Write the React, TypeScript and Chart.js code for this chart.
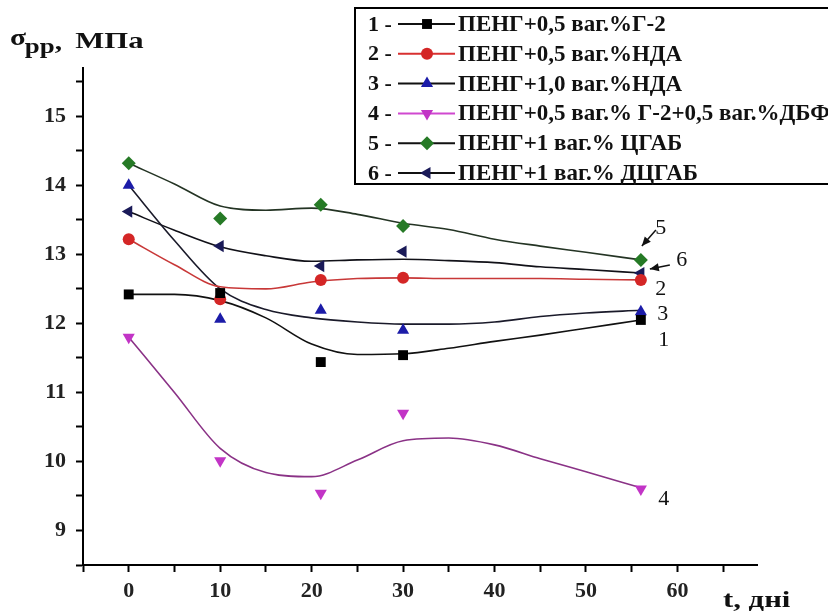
import React, { useEffect, useRef } from "react";
import { Chart, registerables } from "chart.js";

Chart.register(...registerables);

// Measured days
const DAYS = [0, 10, 21, 30, 56];
// Measured values σpp, MPa
const S1 = [12.42, 12.44, 11.44, 11.54, 12.05];
const S2 = [13.22, 12.35, 12.63, 12.66, 12.63];
const S3 = [14.0, 12.06, 12.19, 11.9, 12.17];
const S4 = [11.8, 10.01, 9.54, 10.7, 9.6];
const S5 = [14.32, 13.52, 13.72, 13.41, 12.92];
const S6 = [13.62, 13.12, 12.83, 13.04, 12.73];

// Smoothed fit curves
const FIT_X = [0, 5, 10, 15, 20, 25, 30, 35, 40, 45, 50, 56];
const F1 = [12.42, 12.42, 12.33, 12.08, 11.7, 11.55, 11.56, 11.64, 11.74, 11.83, 11.93, 12.05];
const F2 = [13.22, 12.85, 12.53, 12.5, 12.6, 12.65, 12.66, 12.65, 12.65, 12.65, 12.64, 12.63];
const F3 = [14.0, 13.2, 12.5, 12.2, 12.08, 12.02, 11.99, 11.99, 12.02, 12.1, 12.15, 12.19];
const F4 = [11.8, 11.0, 10.19, 9.84, 9.78, 10.02, 10.3, 10.34, 10.24, 10.04, 9.85, 9.62];
const F5 = [14.32, 14.02, 13.7, 13.64, 13.67, 13.58, 13.45, 13.36, 13.22, 13.12, 13.03, 12.92];
const F6 = [13.62, 13.35, 13.11, 12.98, 12.9, 12.92, 12.93, 12.91, 12.88, 12.82, 12.78, 12.73];

const LEGEND_LABELS = [
  "ПЕНГ+0,5 ваг.%Г-2",
  "ПЕНГ+0,5 ваг.%НДА",
  "ПЕНГ+1,0 ваг.%НДА",
  "ПЕНГ+0,5 ваг.% Г-2+0,5 ваг.%ДБФ",
  "ПЕНГ+1 ваг.% ЦГАБ",
  "ПЕНГ+1 ваг.% ДЦГАБ",
];
const CURVE_NUMS = ["1", "2", "3", "4", "5", "6"];

const X_TICKS_LABELLED = [0, 10, 20, 30, 40, 50, 60];

const SERIES = [S1, S2, S3, S4, S5, S6];
const FITS = [F1, F2, F3, F4, F5, F6];

const FAMILY = '"Liberation Serif", "Times New Roman", serif';

const STYLES = [
  { color: "#000000", line: "#111111", legendLine: "#111111", ps: "rect", r: 7, rot: 0 },
  { color: "#d42626", line: "#c83838", legendLine: "#d83030", ps: "circle", r: 6, rot: 0 },
  { color: "#1c1ca8", line: "#1a1a2a", legendLine: "#111111", ps: "triangle", r: 7, rot: 0 },
  { color: "#c234c6", line: "#8a3286", legendLine: "#d048d0", ps: "triangle", r: 7, rot: 180 },
  { color: "#267a26", line: "#243424", legendLine: "#111111", ps: "rectRot", r: 7, rot: 0 },
  { color: "#1a1a58", line: "#111118", legendLine: "#111111", ps: "triangle", r: 7, rot: 270 },
];

// label offsets (pixels) from last marker of each series
const LABEL_OFFS = [
  [23, 20],
  [20, 9],
  [22, 3],
  [23, 10],
  [20, -32],
  [41, -13],
];

function drawMarker(ctx: CanvasRenderingContext2D, ps: string, x: number, y: number, r: number, rot: number, color: string) {
  ctx.save();
  ctx.translate(x, y);
  ctx.rotate((rot * Math.PI) / 180);
  ctx.fillStyle = color;
  ctx.beginPath();
  if (ps === "rect") {
    const s = r * Math.SQRT1_2;
    ctx.rect(-s, -s, 2 * s, 2 * s);
  } else if (ps === "circle") {
    ctx.arc(0, 0, r, 0, Math.PI * 2);
  } else if (ps === "rectRot") {
    ctx.moveTo(0, -r);
    ctx.lineTo(r, 0);
    ctx.lineTo(0, r);
    ctx.lineTo(-r, 0);
    ctx.closePath();
  } else {
    ctx.moveTo(0, -r);
    ctx.lineTo(r * 0.866, r * 0.5);
    ctx.lineTo(-r * 0.866, r * 0.5);
    ctx.closePath();
  }
  ctx.fill();
  ctx.restore();
}

function arrow(ctx: CanvasRenderingContext2D, x1: number, y1: number, x2: number, y2: number) {
  ctx.beginPath();
  ctx.moveTo(x1, y1);
  ctx.lineTo(x2, y2);
  ctx.stroke();
  const a = Math.atan2(y2 - y1, x2 - x1);
  const L = 9;
  const W = 4;
  ctx.beginPath();
  ctx.moveTo(x2, y2);
  ctx.lineTo(x2 - L * Math.cos(a) + W * Math.sin(a), y2 - L * Math.sin(a) - W * Math.cos(a));
  ctx.lineTo(x2 - L * Math.cos(a) - W * Math.sin(a), y2 - L * Math.sin(a) + W * Math.cos(a));
  ctx.closePath();
  ctx.fill();
}

const overlayPlugin = {
  id: "overlay",
  afterDraw(chart: any) {
    const ctx: CanvasRenderingContext2D = chart.ctx;
    const xs = chart.scales.x;
    const ys = chart.scales.y;
    ctx.save();
    ctx.fillStyle = "#111";
    ctx.strokeStyle = "#111";
    ctx.textAlign = "left";
    ctx.textBaseline = "alphabetic";

    // y title (slightly widened like the reference)
    ctx.save();
    ctx.translate(10, 0);
    ctx.scale(1.28, 1);
    ctx.font = "bold 23px " + FAMILY;
    ctx.fillText("σ", 0, 45);
    ctx.font = "bold 21px " + FAMILY;
    ctx.fillText("pp", 11.5, 53);
    ctx.font = "bold 23px " + FAMILY;
    ctx.fillText(",", 35, 49);
    ctx.font = "bold 24px " + FAMILY;
    ctx.fillText("МПа", 51, 48);
    ctx.restore();

    // x title
    ctx.save();
    ctx.translate(723, 0);
    ctx.scale(1.28, 1);
    ctx.font = "bold 24px " + FAMILY;
    ctx.fillText("t, дні", 0, 607);
    ctx.restore();

    // curve labels
    ctx.font = "22px " + FAMILY;
    ctx.textAlign = "center";
    ctx.textBaseline = "middle";
    const lastX = DAYS[DAYS.length - 1];
    const px = xs.getPixelForValue(lastX);
    SERIES.forEach((s, i) => {
      const py = ys.getPixelForValue(s[s.length - 1]);
      ctx.fillText(CURVE_NUMS[i], px + LABEL_OFFS[i][0], py + LABEL_OFFS[i][1]);
    });
    // arrows for 5 and 6
    ctx.lineWidth = 1.5;
    const p5 = ys.getPixelForValue(S5[S5.length - 1]);
    arrow(ctx, px + 15, p5 - 30, px + 1, p5 - 14);
    const p6 = ys.getPixelForValue(S6[S6.length - 1]);
    arrow(ctx, px + 29, p6 - 8, px + 9, p6 - 4);

    // legend
    const lx = 355;
    const ly = 8;
    ctx.fillStyle = "#fff";
    ctx.fillRect(lx, ly, 500, 176);
    ctx.strokeStyle = "#000";
    ctx.lineWidth = 2;
    ctx.strokeRect(lx, ly, 500, 176);
    ctx.textAlign = "left";
    ctx.textBaseline = "middle";
    LEGEND_LABELS.forEach((lab, i) => {
      const cy = ly + 16 + i * 29.8;
      const st = STYLES[i];
      ctx.font = "bold 22px " + FAMILY;
      ctx.fillStyle = "#111";
      ctx.fillText(CURVE_NUMS[i] + " -", 368, cy + 1);
      ctx.strokeStyle = st.legendLine;
      ctx.lineWidth = 2;
      ctx.beginPath();
      ctx.moveTo(398, cy);
      ctx.lineTo(455, cy);
      ctx.stroke();
      drawMarker(ctx, st.ps, 427, cy, st.r, st.rot, st.color);
      ctx.fillStyle = "#111";
      ctx.font = "bold 23px " + FAMILY;
      ctx.fillText(lab, 458, cy + 1);
    });
    ctx.restore();
  },
};

export default function App() {
  const ref = useRef<HTMLCanvasElement | null>(null);
  useEffect(() => {
    if (!ref.current) return;
    const datasets: any[] = [];
    SERIES.forEach((s, i) => {
      const st = STYLES[i];
      datasets.push({
        label: LEGEND_LABELS[i],
        data: DAYS.map((d, j) => ({ x: d, y: s[j] })),
        showLine: false,
        pointStyle: st.ps,
        pointRotation: st.rot,
        pointRadius: st.r,
        pointBackgroundColor: st.color,
        pointBorderColor: st.color,
        pointBorderWidth: 0,
        borderColor: st.color,
        backgroundColor: st.color,
        order: 0,
      });
    });
    FITS.forEach((f, i) => {
      const st = STYLES[i];
      datasets.push({
        label: "fit " + CURVE_NUMS[i],
        data: FIT_X.map((d, j) => ({ x: d, y: f[j] })),
        showLine: true,
        pointRadius: 0,
        borderColor: st.line,
        borderWidth: 1.6,
        cubicInterpolationMode: "monotone",
        fill: false,
        order: 1,
      });
    });
    const tickFont = { family: FAMILY, size: 22, weight: "bold" as const };
    const chart = new Chart(ref.current, {
      type: "line",
      data: { datasets },
      options: {
        animation: false,
        responsive: false,
        maintainAspectRatio: false,
        layout: { padding: { left: 0, top: 68, right: 71, bottom: 0 } },
        plugins: { legend: { display: false }, tooltip: { enabled: false } },
        scales: {
          x: {
            type: "linear",
            min: -5,
            max: 68.7,
            border: { color: "#000", width: 2 },
            grid: { drawOnChartArea: false, drawTicks: true, tickLength: 7, color: "#000", tickWidth: 2 },
            ticks: {
              stepSize: 5,
              includeBounds: false,
              autoSkip: false,
              maxRotation: 0,
              padding: 6,
              color: "#222",
              font: tickFont,
              callback: (v: any) => (X_TICKS_LABELLED.includes(Math.round(Number(v) * 1000) / 1000) ? String(v) : ""),
            },
            afterFit: (s: any) => {
              s.height = 49;
            },
          },
          y: {
            type: "linear",
            min: 8.5,
            max: 15.7,
            border: { color: "#000", width: 2 },
            grid: { drawOnChartArea: false, drawTicks: true, tickLength: 7, color: "#000", tickWidth: 2 },
            ticks: {
              stepSize: 0.5,
              includeBounds: false,
              autoSkip: false,
              padding: 10,
              color: "#222",
              font: tickFont,
              callback: (v: any) => {
                const n = Number(v);
                return Math.abs(n - Math.round(n)) < 1e-6 ? String(Math.round(n)) : "";
              },
            },
            afterFit: (s: any) => {
              s.width = 83;
            },
          },
        },
      },
      plugins: [overlayPlugin],
    });
    return () => chart.destroy();
  }, []);
  return (
    <div style={{ position: "fixed", left: 0, top: 0, width: 828, height: 614, background: "#fff" }}>
      <canvas ref={ref} width={828} height={614} style={{ display: "block" }} />
    </div>
  );
}
